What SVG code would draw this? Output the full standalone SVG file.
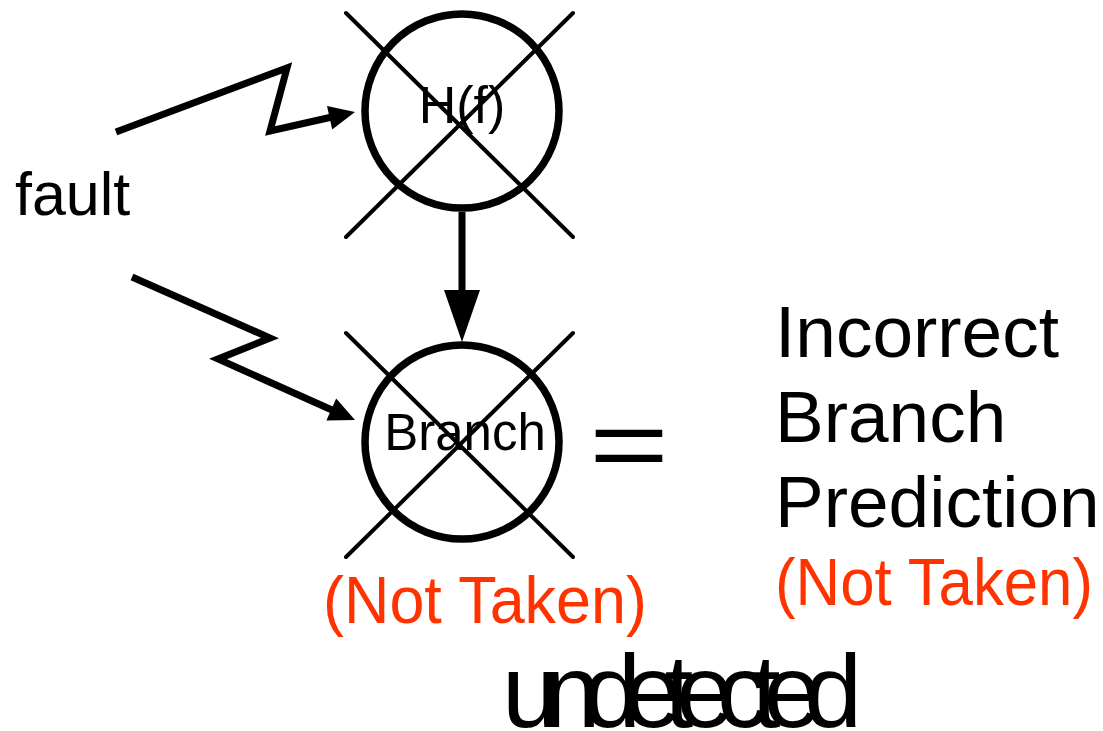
<svg xmlns="http://www.w3.org/2000/svg" width="1103" height="731" viewBox="0 0 1103 731">
<style>
.ring{fill:none;stroke:#000;stroke-width:7.5}
.x{stroke:#000;stroke-width:4;stroke-linecap:round}
.wire{fill:none;stroke:#000;stroke-width:7;stroke-linejoin:miter}
.head{fill:#000}
.t{font-family:"Liberation Sans",Arial,sans-serif;fill:#000}
.red{font-family:"Liberation Sans",Arial,sans-serif;fill:#ff3300}
</style>
<rect width="1103" height="731" fill="#fff"/>
<g id="connectors">
<polyline class="wire" points="116,132 287,68 270,131 332,117"/>
<polygon class="head" points="355,112 332.2,129.4 327,106"/>
<polyline class="wire" points="132,277 270,338 218,359 332,410"/>
<polygon class="head" points="355,420 326.4,420.4 336.2,398.4"/>
<line class="wire" x1="462" y1="212" x2="462" y2="292"/>
<polygon class="head" points="444,290 480,290 462,342"/>
</g>
<g id="node-hf">
<circle class="ring" cx="462" cy="111" r="97"/>
<line class="x" x1="346" y1="13" x2="573" y2="237"/>
<line class="x" x1="573" y1="13" x2="346" y2="237"/>
<text class="t" x="462" y="123" font-size="52" text-anchor="middle">H(f)</text>
</g>
<g id="node-branch">
<circle class="ring" cx="462" cy="442" r="97"/>
<line class="x" x1="346" y1="333" x2="573" y2="557"/>
<line class="x" x1="573" y1="333" x2="346" y2="557"/>
<text class="t" x="465" y="450" font-size="51" text-anchor="middle">Branch</text>
</g>
<g id="labels">
<text class="t" x="15" y="215" font-size="61">fault</text>
<text class="red" x="323" y="623" font-size="67" textLength="324" lengthAdjust="spacingAndGlyphs">(Not Taken)</text>
<text class="t" font-size="100" transform="translate(589,479) scale(1.37,1)">=</text>
<text class="t" x="775" y="357" font-size="73">Incorrect</text>
<text class="t" x="775" y="442" font-size="73">Branch</text>
<text class="t" x="775" y="527" font-size="73">Prediction</text>
<text class="red" x="775" y="605" font-size="67" textLength="318" lengthAdjust="spacingAndGlyphs">(Not Taken)</text>
<text class="t" x="502" y="727" font-size="104" textLength="360" lengthAdjust="spacing">undetected</text>
</g>
</svg>
